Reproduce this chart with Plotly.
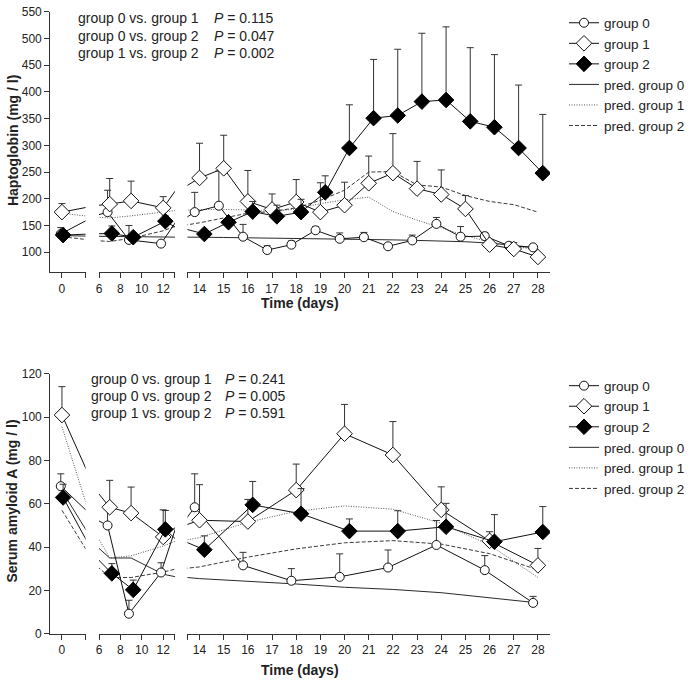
import plotly.graph_objects as go

# ---------------- data: Haptoglobin (top panel) ----------------
hp_days = [0, 7, 9, 12, 14, 15, 16, 17, 18, 19, 20, 21, 22, 23, 24, 25, 26, 27, 28]
hp_g0 = [134, 175, 123, 116, 175, 187, 129, 104, 114, 141, 125, 128, 111, 122, 153, 129, 130, 112, 109]
hp_g0_err = [12, 41, 27, 4, 37, 65, 23, 8, 7, 7, 11, 9, 3, 10, 12, 19, 7, 6, 3]
hp_g1 = [175, 190, 196, 183, 239, 257, 195, 180, 194, 175, 188, 229, 248, 219, 208, 181, 114, 106, 91]
hp_g1_err = [16, 48, 37, 21, 65, 62, 58, 29, 42, 55, 43, 51, 74, 51, 46, 25, 3, 12, 2]
hp_g2 = [132, 135, 128, 158, 134, 156, 176, 167, 175, 212, 295, 351, 356, 382, 385, 345, 334, 295, 248]
hp_g2_err = [8, 14, 6, 10, 6, 6, 19, 21, 24, 31, 81, 110, 124, 128, 137, 138, 136, 118, 110]
hp_pred0 = [131, 130, 130, 129, 128, 127.5, 127, 126.5, 126, 125, 124.5, 124, 123, 122, 121, 119.5, 117, 113, 108]
hp_pred1 = [173, 164, 168, 176, 180, 180, 179, 176, 181, 191, 198, 203, 176, 160, 145, 131, 119, 112, 104]
hp_pred2 = [129, 120, 126, 140, 155, 164, 173, 176, 183, 197, 216, 250, 251, 226, 222, 206, 195, 189, 175]
hp_pvals = [("group 0 vs. group 1", "0.115"), ("group 0 vs. group 2", "0.047"), ("group 1 vs. group 2", "0.002")]
hp_yticks = [100, 150, 200, 250, 300, 350, 400, 450, 500, 550]

# ---------------- data: Serum amyloid A (bottom panel) ----------------
saa_days = [0, 7, 9, 12, 14, 16, 18, 20, 22, 24, 26, 28]
saa_g0 = [68.1, 50, 9.3, 28.3, 58.4, 31.6, 24.5, 26.3, 30.6, 41, 29.4, 14.3]
saa_g0_err = [5.7, 8, 6.2, 4.5, 15.4, 6, 5.6, 10.6, 8.1, 11.3, 6.7, 3]
saa_g1 = [100.9, 58.4, 55.7, 44.7, 52.4, 51.8, 66.3, 92.3, 82.5, 57.2, 42.9, 31.6]
saa_g1_err = [13.1, 12.4, 12, 12.5, 16.4, 10.2, 12, 13.5, 15.4, 10.6, 4.2, 7.8]
saa_g2 = [62.9, 27.9, 20.3, 48.2, 38.8, 59.5, 55.4, 47.4, 47.4, 49.4, 42.5, 47]
saa_g2_err = [6.1, 4.5, 4.5, 8.7, 6.4, 10.8, 11.6, 5.6, 9.4, 10.8, 12.5, 11.7]
saa_pred0 = [66, 35, 35, 27.5, 25.5, 24.3, 23, 21.5, 20.5, 19, 16.5, 14.3]
saa_pred1 = [95.5, 35, 36, 40.5, 44.4, 51.5, 56.5, 59, 57.5, 51, 41, 26]
saa_pred2 = [57, 26, 26, 28.5, 30.9, 35.4, 39.2, 42, 43, 41.4, 37, 29.5]
saa_pvals = [("group 0 vs. group 1", "0.241"), ("group 0 vs. group 2", "0.005"), ("group 1 vs. group 2", "0.591")]
saa_yticks = [0, 20, 40, 60, 80, 100, 120]

seg_ticks = [[0], [6, 8, 10, 12], list(range(14, 29))]

# ---------------- layout helpers ----------------
W, H = 690, 684
FONT = "Arial, Liberation Sans, sans-serif"
INK = "#222222"
AX = "#333333"


def fx(p):
    return p / W


def fy(p):
    return 1 - p / H


SEG_PX = [(48, 84), (97.7, 175), (187.7, 556.7)]
SEG_RANGE = [(-2, 4), (6, 13.1), (13.5, 28.5)]
SEG_END_TICKS = [[4], [13.1], [13.5]]
OFFSET = {0: -0.2, 1: 0.0, 2: 0.2}

fig = go.Figure()

panels = [
    dict(days=hp_days, g=[hp_g0, hp_g1, hp_g2], e=[hp_g0_err, hp_g1_err, hp_g2_err],
         p=[hp_pred0, hp_pred1, hp_pred2], xa=["x", "x2", "x3"], ya="y", legend="legend"),
    dict(days=saa_days, g=[saa_g0, saa_g1, saa_g2], e=[saa_g0_err, saa_g1_err, saa_g2_err],
         p=[saa_pred0, saa_pred1, saa_pred2], xa=["x4", "x5", "x6"], ya="y2", legend="legend2"),
]

pred_styles = [
    dict(color="#2a2a2a", dash="solid", width=1),
    dict(color="#555555", dash="1px,1.5px", width=1),
    dict(color="#3a3a3a", dash="4px,2px", width=1),
]
marker_styles = [
    dict(symbol="circle", size=9, color="white", line=dict(color="#111", width=1)),
    dict(symbol="diamond", size=12, color="white", line=dict(color="#111", width=1)),
    dict(symbol="diamond", size=12, color="#000", line=dict(color="#000", width=1)),
]

for panel in panels:
    days = panel["days"]
    for k, xa in enumerate(panel["xa"]):
        show = k == 0
        for i in range(3):
            fig.add_trace(go.Scatter(
                x=days, y=panel["p"][i], mode="lines", line=pred_styles[i],
                name=f"pred. group {i}", xaxis=xa, yaxis=panel["ya"],
                showlegend=show, legend=panel["legend"], legendrank=4 + i,
                hoverinfo="skip"))
        for i in range(3):
            fig.add_trace(go.Scatter(
                x=[d + OFFSET[i] for d in days], y=panel["g"][i], mode="lines+markers",
                line=dict(color="#111", width=1), marker=marker_styles[i],
                error_y=dict(type="data", symmetric=False, array=panel["e"][i],
                             arrayminus=[0] * len(days), color="#333", thickness=1, width=3.5),
                name=f"group {i}", xaxis=xa, yaxis=panel["ya"],
                showlegend=show, legend=panel["legend"], legendrank=1 + i,
                hoverinfo="skip"))

layout = dict(
    width=W, height=H, margin=dict(l=0, r=0, t=0, b=0),
    paper_bgcolor="white", plot_bgcolor="white",
    font=dict(family=FONT, size=12, color=INK),
    showlegend=True,
)

axis_common = dict(showline=True, linecolor=AX, linewidth=1, ticks="outside", ticklen=5,
                   tickcolor=AX, tickwidth=1, showgrid=False, zeroline=False,
                   tickfont=dict(family=FONT, size=12, color=INK), fixedrange=True)

names = ["xaxis", "xaxis2", "xaxis3", "xaxis4", "xaxis5", "xaxis6"]
for pi in range(2):
    for k in range(3):
        nm = names[pi * 3 + k]
        tv = seg_ticks[k] + SEG_END_TICKS[k]
        tt = [str(t) for t in seg_ticks[k]] + [""]
        layout[nm] = dict(axis_common, domain=[fx(SEG_PX[k][0]), fx(SEG_PX[k][1])],
                          range=list(SEG_RANGE[k]), tickmode="array", tickvals=tv, ticktext=tt,
                          anchor="y" if pi == 0 else "y2")

layout["yaxis"] = dict(axis_common, domain=[fy(271), fy(5)], range=[62, 550],
                       tickmode="array", tickvals=hp_yticks, anchor="x")
layout["yaxis2"] = dict(axis_common, domain=[fy(640), fy(374.3)], range=[0, 120],
                        tickmode="array", tickvals=saa_yticks, anchor="x4")

leg_common = dict(xanchor="left", yanchor="top", bgcolor="rgba(0,0,0,0)",
                  font=dict(family=FONT, size=13.5, color=INK), itemwidth=30,
                  tracegroupgap=0, traceorder="normal")
layout["legend"] = dict(leg_common, x=fx(571), y=fy(0.5))
layout["legend2"] = dict(leg_common, x=fx(571), y=fy(371))

ann = []
for rows, x0, xp, ys in [(hp_pvals, 74, 213, [11.7, 29.2, 46.7]),
                         (saa_pvals, 88, 224, [379.3, 396.8, 414.5])]:
    for (lab, pv), yy in zip(rows, ys):
        ann.append(dict(x=fx(x0), y=fy(yy), xref="paper", yref="paper", text=lab,
                        showarrow=False, xanchor="left", yanchor="middle",
                        font=dict(family=FONT, size=14, color=INK)))
        ann.append(dict(x=fx(xp), y=fy(yy), xref="paper", yref="paper",
                        text=f"<i>P</i> = {pv}", showarrow=False, xanchor="left",
                        yanchor="middle", font=dict(family=FONT, size=14, color=INK)))

for txt, yy in [("Time (days)", 302), ("Time (days)", 677)]:
    ann.append(dict(x=fx(302), y=fy(yy), xref="paper", yref="paper", text=f"<b>{txt}</b>",
                    showarrow=False, xanchor="center", yanchor="middle",
                    font=dict(family=FONT, size=14, color=INK)))
for txt, xx, yy in [("Haptoglobin (mg / l)", 10, 136), ("Serum amyloid A (mg / l)", 9, 504)]:
    ann.append(dict(x=fx(xx), y=fy(yy), xref="paper", yref="paper", text=f"<b>{txt}</b>",
                    showarrow=False, textangle=-90, xanchor="center", yanchor="middle",
                    font=dict(family=FONT, size=14, color=INK)))
layout["annotations"] = ann

fig.update_layout(**layout)
fig.write_html("out.html", config={"displayModeBar": False},
               post_script="document.body.style.margin='0';document.body.style.overflow='hidden';")
